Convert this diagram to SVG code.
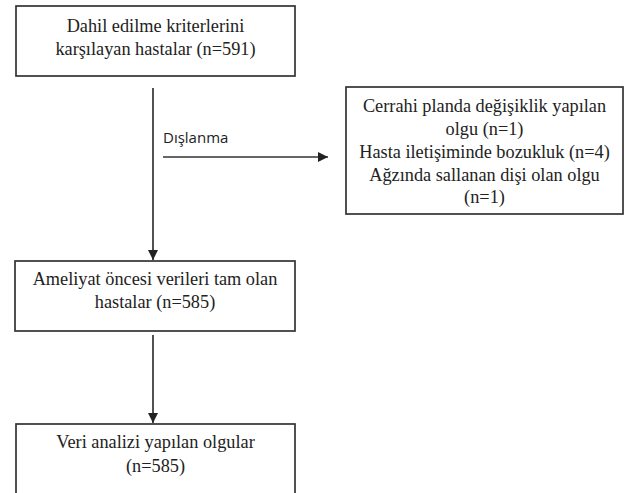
<svg xmlns="http://www.w3.org/2000/svg" width="626" height="493" viewBox="0 0 626 493">
<style>
.box{fill:#fff;stroke:#333;stroke-width:1.7}
.t{font-family:"Liberation Serif","Times New Roman",serif;font-size:18.3px;fill:#222;text-anchor:middle}
.s{font-family:"Open Sans","Liberation Sans",sans-serif;font-size:15px;fill:#222}
.c{stroke:#333;stroke-width:1.7;fill:none}
</style>
<defs>
<marker id="ah" viewBox="0 0 10 10" refX="10" refY="5" markerWidth="10" markerHeight="10" markerUnits="userSpaceOnUse" orient="auto">
<path d="M0,0 L10,5 L0,10 z" fill="#222"/>
</marker>
</defs>
<rect width="626" height="493" fill="#fff"/>
<g id="n1">
<rect class="box" x="16" y="6" width="279" height="70"/>
<text class="t" x="155.5" y="32">Dahil edilme kriterlerini</text>
<text class="t" x="155.5" y="55">karşılayan hastalar (n=591)</text>
</g>
<g id="n2">
<rect class="box" x="346" y="87" width="277" height="127"/>
<text class="t" x="484.5" y="112">Cerrahi planda değişiklik yapılan</text>
<text class="t" x="484.5" y="135">olgu (n=1)</text>
<text class="t" x="484.5" y="158">Hasta iletişiminde bozukluk (n=4)</text>
<text class="t" x="484.5" y="181">Ağzında sallanan dişi olan olgu</text>
<text class="t" x="484.5" y="203">(n=1)</text>
</g>
<g id="n3">
<rect class="box" x="15" y="261" width="280" height="70"/>
<text class="t" x="155" y="285">Ameliyat öncesi verileri tam olan</text>
<text class="t" x="155" y="308">hastalar (n=585)</text>
</g>
<g id="n4">
<rect class="box" x="16" y="424" width="279" height="80"/>
<text class="t" x="155.5" y="448">Veri analizi yapılan olgular</text>
<text class="t" x="155.5" y="472">(n=585)</text>
</g>
<g id="connectors">
<line class="c" x1="153" y1="88" x2="153" y2="260" marker-end="url(#ah)"/>
<line class="c" x1="163" y1="157" x2="328" y2="157" marker-end="url(#ah)"/>
<line class="c" x1="153" y1="335" x2="153" y2="423" marker-end="url(#ah)"/>
<text class="s" x="163" y="143">Dışlanma</text>
</g>
</svg>
